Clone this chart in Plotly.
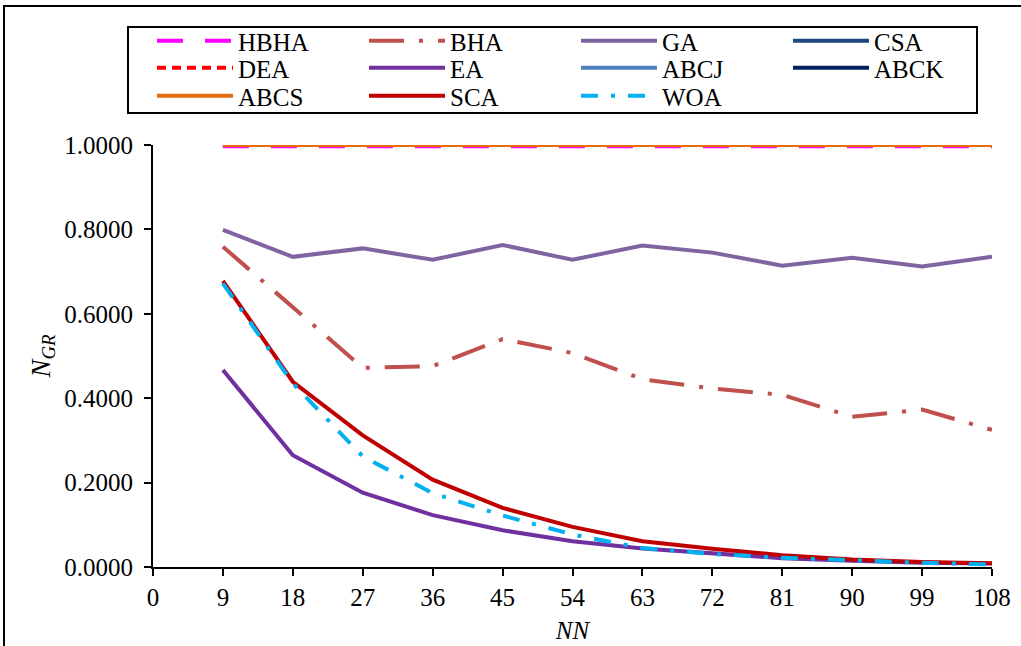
import plotly.graph_objects as go

# ---- data ----
nn = [9, 18, 27, 36, 45, 54, 63, 72, 81, 90, 99, 108]

hbha = [0.997] * 12
dea = [1.0] * 12
csa = [1.0] * 12
abcj = [1.0] * 12
abck = [1.0] * 12
abcs = [1.0] * 12
ga = [0.799, 0.735, 0.755, 0.728, 0.763, 0.728, 0.762, 0.745, 0.714, 0.733, 0.712, 0.735]
bha = [0.759, 0.615, 0.472, 0.476, 0.540, 0.507, 0.445, 0.423, 0.408, 0.356, 0.373, 0.325]
ea = [0.467, 0.265, 0.176, 0.123, 0.087, 0.061, 0.044, 0.032, 0.021, 0.015, 0.010, 0.008]
sca = [0.678, 0.439, 0.312, 0.207, 0.140, 0.095, 0.061, 0.043, 0.028, 0.018, 0.012, 0.009]
woa = [0.672, 0.435, 0.262, 0.175, 0.122, 0.077, 0.045, 0.031, 0.022, 0.015, 0.010, 0.006]

x_ticks = [0, 9, 18, 27, 36, 45, 54, 63, 72, 81, 90, 99, 108]
y_ticks = [0, 0.2, 0.4, 0.6, 0.8, 1.0]

# name, values, color, dash, legend row, position in row
series = [
    ("HBHA", hbha, "#FF00FF", "26px,22px", "legend", 1),
    ("DEA", dea, "#FF0000", "9px,6px", "legend2", 1),
    ("CSA", csa, "#1F497D", "solid", "legend", 4),
    ("ABCJ", abcj, "#4F81BD", "solid", "legend2", 3),
    ("ABCK", abck, "#002060", "solid", "legend2", 4),
    ("GA", ga, "#8064A2", "solid", "legend", 3),
    ("BHA", bha, "#C0504D", "35px,15px,4px,15px", "legend", 2),
    ("EA", ea, "#7030A0", "solid", "legend2", 2),
    ("SCA", sca, "#C00000", "solid", "legend3", 2),
    ("WOA", woa, "#00B0F0", "17px,13px,4px,13px", "legend3", 3),
    ("ABCS", abcs, "#E46C0A", "solid", "legend3", 1),
]

FONT = "Liberation Serif, Times New Roman, serif"
W, H = 1021, 646
ML, MR, MT, MB = 153, 29, 145, 79
pw = W - ML - MR
ph = H - MT - MB


def px_x(px):
    return (px - ML) / pw


def px_y(py):
    return (H - MB - py) / ph


fig = go.Figure()
for name, vals, color, dash, leg, rank in series:
    fig.add_trace(go.Scatter(
        x=nn, y=vals, name=name, mode="lines",
        line=dict(color=color, width=4, dash=dash),
        legend=leg, legendrank=rank,
    ))

# outer frame (left and top edges visible, others run off the page)
fig.add_shape(type="rect", xref="paper", yref="paper",
              x0=px_x(4), x1=px_x(W + 10), y0=px_y(H + 10), y1=px_y(6),
              line=dict(color="black", width=2), fillcolor="rgba(0,0,0,0)")
# legend frame
fig.add_shape(type="rect", xref="paper", yref="paper",
              x0=px_x(128), x1=px_x(977), y0=px_y(113), y1=px_y(27),
              line=dict(color="black", width=2), fillcolor="white", layer="below")


def legend_cfg(row_center):
    return dict(
        orientation="h", x=px_x(152), xanchor="left",
        y=px_y(row_center), yanchor="middle",
        borderwidth=0, bgcolor="rgba(0,0,0,0)",
        font=dict(family=FONT, size=25, color="black"),
        itemwidth=76, entrywidth=121, entrywidthmode="pixels",
        traceorder="normal",
    )


fig.update_layout(
    width=W, height=H,
    margin=dict(l=ML, r=MR, t=MT, b=MB, pad=0, autoexpand=False),
    paper_bgcolor="white", plot_bgcolor="white",
    font=dict(family=FONT, size=25, color="black"),
    showlegend=True,
    legend=legend_cfg(41),
    legend2=legend_cfg(68),
    legend3=legend_cfg(96),
    xaxis=dict(
        range=[0, 108], tickvals=x_ticks, ticktext=[str(v) for v in x_ticks],
        showgrid=False, zeroline=False, showline=True, linecolor="black", linewidth=2,
        ticks="outside", ticklen=7, tickwidth=1.5, tickcolor="black",
        tickfont=dict(family=FONT, size=25),
        title=dict(text="<i>NN</i>", font=dict(family=FONT, size=25), standoff=11),
    ),
    yaxis=dict(
        range=[0, 1.0], tickvals=y_ticks, tickformat=".4f",
        showgrid=False, zeroline=False, showline=True, linecolor="black", linewidth=2,
        ticks="outside", ticklen=7, tickwidth=1.5, tickcolor="black",
        tickfont=dict(family=FONT, size=25), ticklabelstandoff=6,
        title=dict(text="<i>N<sub>GR</sub></i>", font=dict(family=FONT, size=27), standoff=6),
    ),
)

fig.write_html("out.html")
